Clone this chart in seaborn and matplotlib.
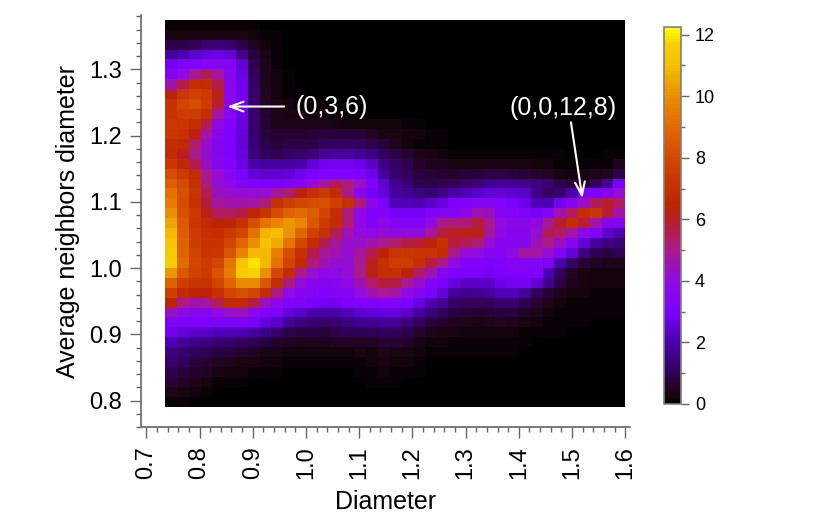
import numpy as np
import matplotlib
matplotlib.use('Agg')
import matplotlib.pyplot as plt
import seaborn as sns
from matplotlib.colors import LinearSegmentedColormap

# Density, top row first, left column first
density_top = [
    [.1,.1,.1,.1,.1,.1,.1,.1,0,0,0,0,0,0,0,0,0,0,0,0,0,0,0,0,0,0,0,0,0,0,0,0,0,0,0,0,0,0,0],
    [.3,.3,.3,.3,.3,.3,.3,.2,.1,.1,0,0,0,0,0,0,0,0,0,0,0,0,0,0,0,0,0,0,0,0,0,0,0,0,0,0,0,0,0],
    [.9,.9,1.0,1.3,1.4,1.3,.9,.5,.2,.1,0,0,0,0,0,0,0,0,0,0,0,0,0,0,0,0,0,0,0,0,0,0,0,0,0,0,0,0,0],
    [1.9,2.1,2.4,2.6,2.7,2.5,1.7,.8,.3,.1,0,0,0,0,0,0,0,0,0,0,0,0,0,0,0,0,0,0,0,0,0,0,0,0,0,0,0,0,0],
    [2.8,3.1,3.3,3.4,3.5,3.3,2.5,1.0,.4,.1,0,0,0,0,0,0,0,0,0,0,0,0,0,0,0,0,0,0,0,0,0,0,0,0,0,0,0,0,0],
    [3.5,4.0,5.0,5.6,4.8,3.6,2.7,1.1,.4,.2,.1,0,0,0,0,0,0,0,0,0,0,0,0,0,0,0,0,0,0,0,0,0,0,0,0,0,0,0,0],
    [4.5,5.7,6.8,6.9,5.6,3.7,2.8,1.2,.4,.2,.1,0,0,0,0,0,0,0,0,0,0,0,0,0,0,0,0,0,0,0,0,0,0,0,0,0,0,0,0],
    [6.3,7.3,7.7,7.4,6.2,3.8,2.8,1.3,.5,.2,.1,.1,0,0,0,0,0,0,0,0,0,0,0,0,0,0,0,0,0,0,0,0,0,0,0,0,0,0,0],
    [7.1,7.9,8.2,7.5,5.8,3.7,2.8,1.3,.5,.3,.2,.1,.1,.1,0,0,0,0,0,0,0,0,0,0,0,0,0,0,0,0,0,0,0,0,0,0,0,0,0],
    [7.2,7.6,7.5,6.9,4.6,3.4,2.7,1.3,.6,.4,.3,.3,.2,.2,.1,.1,.1,0,0,0,0,0,0,0,0,0,0,0,0,0,0,0,0,0,0,0,0,0,0],
    [7.4,7.3,6.9,5.6,3.9,3.2,2.6,1.3,.7,.4,.4,.4,.4,.4,.3,.2,.2,.2,.2,.2,.1,.1,0,0,0,0,0,0,0,0,0,0,0,0,0,0,0,0,0],
    [7.3,7.1,6.3,4.6,3.6,3.1,2.5,1.3,.8,.6,.6,.6,.7,.8,.8,.8,.7,.5,.3,.3,.2,.2,.1,.1,0,0,0,0,0,0,0,0,0,0,0,0,0,0,0],
    [6.9,6.7,5.3,4.3,3.5,3.0,2.5,1.4,.9,.8,.9,.9,.9,1.2,1.2,1.2,1.2,1.0,.8,.4,.2,.15,.1,.1,0,0,0,0,0,0,0,0,0,0,0,0,0,0,0],
]
density_mid = [
    [6.8,6.2,5.0,4.2,3.5,3.1,2.6,1.5,1.1,1.0,1.2,1.3,1.5,1.8,1.9,1.9,1.8,1.6,1.2,.9,.7,.4,.3,.2,.1,.1,.1,.1,.1,.1,.1,.1,.1,.1,0,0,0,.1,.1],
    [7.3,6.7,5.6,4.4,3.6,3.2,2.7,2.0,1.9,1.9,1.9,2.0,2.5,2.8,2.9,2.9,2.7,2.3,1.6,1.2,1.0,.6,.4,.4,.3,.3,.3,.3,.3,.3,.3,.2,.2,.1,.1,.1,.1,.1,.4],
    [8.2,7.4,6.8,4.9,4.2,3.4,3.0,2.5,2.4,2.4,2.5,2.8,3.0,3.2,3.2,3.2,3.1,2.7,1.9,1.3,1.1,.8,.7,.6,.6,.7,.8,.9,.9,.8,.7,.6,.5,.3,.2,.3,.4,.5,1.0],
    [8.7,8.1,7.0,5.1,4.2,3.8,3.3,3.1,3.0,3.0,3.2,3.4,4.2,4.8,5.5,5.2,4.4,3.2,2.4,1.7,1.4,1.0,.9,1.0,1.1,1.3,1.5,1.7,1.8,1.8,1.7,1.6,1.4,1.0,.8,.6,1.2,1.8,3.0],
    [9.2,8.3,7.2,5.6,4.4,4.3,4.2,4.2,4.3,4.7,5.3,6.3,7.0,7.4,6.8,5.0,3.7,2.9,2.6,1.9,1.7,1.5,1.4,1.6,2.0,2.1,2.3,2.5,2.5,2.4,2.3,1.6,1.1,1.3,2.0,3.0,3.2,3.5,4.2],
    [9.5,8.2,7.0,5.8,4.8,4.6,4.6,4.7,5.2,7.0,7.6,8.0,8.2,8.3,7.7,7.0,5.2,3.8,3.0,2.2,2.2,2.1,2.3,2.6,3.0,3.2,3.4,3.4,3.3,3.0,2.7,2.2,2.1,2.8,3.4,4.4,5.5,6.0,5.4],
    [10.0,8.3,7.4,6.2,5.4,5.4,5.7,6.6,7.2,8.2,8.8,9.0,8.7,7.9,6.9,5.2,3.9,3.2,3.3,2.9,2.9,2.9,3.2,3.3,3.5,3.8,4.5,4.4,3.4,3.4,3.2,3.0,3.3,4.5,5.4,6.9,7.3,5.9,4.6],
    [10.5,8.6,7.3,6.7,6.5,6.6,7.0,8.2,9.2,9.8,10.2,9.8,8.5,7.5,6.8,5.2,3.9,3.3,3.7,3.4,3.3,3.3,4.0,5.0,5.2,5.2,5.8,5.0,4.0,3.7,3.7,3.9,4.9,6.0,6.8,5.9,4.6,3.5,3.3],
    [10.9,8.7,7.5,7.0,6.9,7.4,8.0,9.2,10.8,11.0,10.1,8.9,7.7,7.0,5.6,4.5,4.1,3.9,4.2,4.0,4.0,4.1,4.8,5.8,6.0,6.2,6.2,4.8,3.9,3.6,3.5,4.3,5.5,5.4,4.7,3.7,3.3,2.4,2.1],
    [11.2,8.8,7.6,7.1,7.2,8.0,8.9,10.0,11.2,10.6,9.3,8.0,6.8,5.6,4.8,4.3,4.3,4.6,5.0,5.3,5.7,5.9,6.5,7.0,5.8,5.5,5.2,4.2,3.6,3.6,3.5,4.5,5.0,4.4,3.4,2.5,1.9,1.6,1.4],
    [11.5,8.9,7.9,7.2,7.3,8.4,9.7,10.9,10.9,9.5,8.2,7.0,5.7,4.8,4.5,4.3,4.8,5.6,6.5,7.2,7.3,7.2,7.2,6.8,5.0,4.2,4.0,3.5,3.4,4.0,4.7,4.7,4.2,3.3,2.5,1.5,1.0,.8,1.0],
    [11.6,9.0,8.0,7.5,8.0,9.3,11.3,11.9,10.9,9.2,7.8,6.7,5.2,4.5,4.2,4.2,5.0,6.2,7.0,7.5,7.5,7.0,5.8,5.0,3.9,3.3,3.3,3.0,3.2,3.4,3.4,3.4,3.0,2.0,1.2,.7,.5,.4,.4],
    [10.2,8.5,7.8,7.4,8.4,9.5,11.6,11.7,10.0,8.0,6.9,5.0,4.3,3.9,3.9,4.2,5.0,6.2,7.0,7.0,6.5,5.4,4.5,3.6,3.0,3.0,3.0,2.9,3.1,3.2,3.2,3.1,2.1,1.1,.5,.3,.2,.2,.2],
]
density_bottom = [
    [8.8,7.5,7.2,7.1,7.9,8.9,9.9,9.9,8.5,6.9,5.1,4.1,3.6,3.5,3.6,3.9,4.5,5.3,5.9,5.7,4.9,4.2,3.4,3.0,2.6,2.3,2.3,2.3,2.7,2.9,2.9,2.4,1.7,.9,.4,.3,.2,.2,.2],
    [7.6,6.7,6.5,6.5,7.0,8.0,8.3,7.9,6.8,5.1,4.0,3.5,3.4,3.2,3.3,3.5,4.0,4.6,4.9,4.7,4.0,3.4,3.0,2.5,1.8,1.7,1.7,1.9,2.2,2.2,1.8,1.1,.7,.4,.2,.2,.1,.1,.1],
    [6.6,5.0,4.6,4.8,5.6,6.7,6.7,5.7,4.4,3.7,3.2,3.2,3.0,2.8,2.8,3.1,3.2,3.2,3.2,3.2,3.0,2.6,2.1,1.8,1.2,1.1,1.1,1.1,1.3,1.3,1.0,.7,.4,.2,.15,.1,.1,.1,.1],
    [4.4,3.8,3.6,3.5,3.9,4.3,4.4,3.7,3.2,3.0,2.5,2.3,2.0,2.0,2.0,2.2,2.4,2.5,2.6,2.6,2.3,1.9,1.5,1.1,.8,.7,.6,.7,.8,.8,.5,.4,.2,.15,.1,.1,.1,.1,.1],
    [3.1,3.1,3.1,3.1,3.1,3.1,3.1,2.9,2.5,2.3,1.8,1.5,1.3,1.2,1.3,1.5,1.7,1.7,1.8,1.8,1.5,1.1,.8,.6,.4,.4,.3,.4,.5,.4,.3,.2,.15,.1,.1,.1,.05,.05,.05],
    [2.8,2.5,2.3,2.3,2.2,2.2,2.1,1.9,1.6,1.2,.9,.8,.8,.7,.9,1.0,1.0,1.0,1.1,1.1,.9,.6,.4,.3,.3,.2,.2,.2,.25,.2,.15,.1,.1,.1,.05,.05,.05,.05,.05],
    [2.1,1.8,1.6,1.5,1.3,1.2,1.1,1.0,.7,.6,.5,.4,.4,.4,.5,.5,.5,.5,.7,.7,.6,.35,.2,.2,.15,.15,.15,.1,.15,.1,.1,.05,.05,.05,.05,.05,0,0,0],
    [1.5,1.3,1.1,1.0,.8,.7,.6,.5,.3,.3,.2,.2,.2,.2,.2,.2,.3,.2,.4,.35,.3,.2,.1,.1,.1,.1,.1,.1,.1,.1,.05,.05,0,0,0,0,0,0,0],
    [1.3,1.1,.8,.7,.5,.4,.3,.3,.2,.2,.1,.1,.1,.1,.1,.1,.1,.2,.3,.25,.2,.15,.05,.05,.05,.05,.05,.05,.05,0,0,0,0,0,0,0,0,0,0],
    [1.0,.8,.6,.5,.3,.2,.2,.1,.1,.1,.05,.05,.05,.05,.05,.05,.1,.1,.2,.15,.15,.1,.05,.05,0,0,0,0,0,0,0,0,0,0,0,0,0,0,0],
    [.7,.5,.4,.3,.1,.1,.1,.05,.05,.05,.05,.05,.05,.05,.05,.05,.05,.1,.15,.1,.05,0,0,0,0,0,0,0,0,0,0,0,0,0,0,0,0,0,0],
    [.4,.3,.2,.1,.05,.05,.05,.05,0,0,0,0,0,0,0,0,0,0,.05,0,0,0,0,0,0,0,0,0,0,0,0,0,0,0,0,0,0,0,0],
    [.1,.1,.05,.05,0,0,0,0,0,0,0,0,0,0,0,0,0,0,0,0,0,0,0,0,0,0,0,0,0,0,0,0,0,0,0,0,0,0,0],
]
density = np.array(density_top + density_mid + density_bottom)

x_ticks = [0.7, 0.8, 0.9, 1.0, 1.1, 1.2, 1.3, 1.4, 1.5, 1.6]
y_ticks = [0.8, 0.9, 1.0, 1.1, 1.2, 1.3]
cbar_ticks = [0, 2, 4, 6, 8, 10, 12]
cbar_minor = [1, 3, 5, 7, 9, 11]

# data range covered by the cells
x_left, x_right = 0.7357, 1.6
y_top, y_bottom = 1.3748, 0.7905
n_rows, n_cols = density.shape

def x_pos(v):
    return (np.asarray(v) - x_left) / (x_right - x_left) * n_cols

def y_pos(v):
    return (y_top - np.asarray(v)) / (y_top - y_bottom) * n_rows

stops = [(0, '#000000'), (.3, '#1c0412'), (1, '#300055'), (2, '#4b00af'), (3, '#7d00ff'), (4, '#910ae1'),
         (5, '#aa198c'), (6, '#b91e28'), (6.5, '#be2300'), (8, '#d24600'), (9, '#e16900'),
         (10, '#eb8c00'), (11, '#f5be00'), (11.7, '#f8cd00'), (12.25, '#ffff00')]
vmax = 12.25
cmap = LinearSegmentedColormap.from_list('hot_violet', [(s / vmax, c) for s, c in stops], N=128)

plt.rcParams['font.family'] = ['Liberation Sans', 'DejaVu Sans']
W, H = 830, 521
fig = plt.figure(figsize=(W / 100, H / 100), dpi=100)
ax = fig.add_axes([141 / W, 1 - 427 / H, 489 / W, 412 / H])
cax = fig.add_axes([664 / W, 1 - 404 / H, 17 / W, 377 / H])

sns.heatmap(density, ax=ax, cbar_ax=cax, cmap=cmap, vmin=0, vmax=vmax,
            xticklabels=False, yticklabels=False, cbar_kws={'ticks': cbar_ticks})

# Axis limits in cell units, a bit wider than the cells
ax.set_xlim(x_pos(0.69), x_pos(1.609))
ax.set_ylim(y_pos(0.762), y_pos(1.382))
sns.despine(ax=ax)

grey = '#666666'
ax.set_xticks(x_pos(x_ticks))
ax.set_xticklabels([f'{t:.1f}' for t in x_ticks], rotation=90, fontsize=17)
ax.set_xticks(x_pos(np.arange(0.7, 1.601, 0.02)), minor=True)
ax.set_yticks(y_pos(y_ticks))
ax.set_yticklabels([f'{t:.1f}' for t in y_ticks], rotation=0, fontsize=17)
ax.set_yticks(y_pos(np.arange(0.76, 1.381, 0.02)), minor=True)
ax.tick_params(axis='both', which='major', length=8, width=1, color=grey, pad=6, labelcolor='black')
ax.tick_params(axis='both', which='minor', length=3.6, width=1, color=grey)
for side in ['left', 'bottom']:
    ax.spines[side].set_visible(True)
    ax.spines[side].set_color(grey)
    ax.spines[side].set_linewidth(1.2)

ax.set_xlabel('Diameter', fontsize=18, labelpad=8)
ax.set_ylabel('Average neighbors diameter', fontsize=18, labelpad=6)

# Labelled peaks
head = '->,head_length=0.6,head_width=0.22'
ax.annotate('(0,3,6)', xy=(x_pos(0.852), y_pos(1.2438)), xytext=(x_pos(0.98), y_pos(1.2438)),
            color='white', fontsize=18, va='center', ha='left',
            arrowprops=dict(arrowstyle=head, color='white', lw=1.5, shrinkA=6, shrinkB=0, mutation_scale=16))
ax.annotate('(0,0,12,8)', xy=(x_pos(1.5195), y_pos(1.1053)), xytext=(x_pos(1.4838), y_pos(1.2423)),
            color='white', fontsize=18, va='center', ha='center',
            arrowprops=dict(arrowstyle=head, color='white', lw=1.5, shrinkA=0, shrinkB=0, mutation_scale=16,
                            relpos=(0.55, 0.5)))

cbar = ax.collections[0].colorbar
cbar.outline.set_visible(True)
cbar.outline.set_edgecolor('#808080')
cbar.outline.set_linewidth(1.2)
cax.set_yticks(cbar_minor, minor=True)
cax.tick_params(which='major', length=6, width=1, color=grey, labelsize=13, pad=4)
cax.tick_params(which='minor', length=3, width=1, color=grey)

fig.savefig('out.png', dpi=100)
